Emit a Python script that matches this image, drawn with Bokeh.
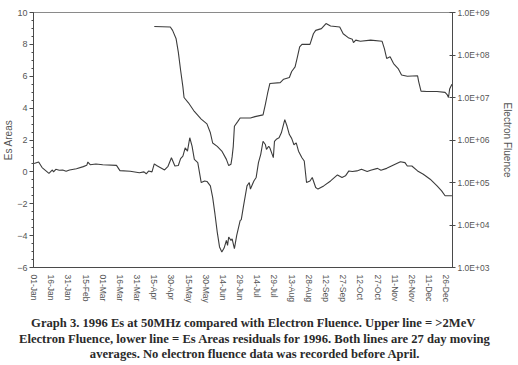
from bokeh.plotting import figure
from bokeh.models import (Range1d, LogScale, LogAxis, FixedTicker, SingleIntervalTicker,
                          CustomJSTickFormatter, ColumnDataSource)
from bokeh.layouts import column
from bokeh.embed import file_html
from bokeh.resources import INLINE
from bokeh.core.properties import value

# ---------------- data ----------------
tick_labels = ["01-Jan", "16-Jan", "31-Jan", "15-Feb", "01-Mar", "16-Mar", "31-Mar",
               "15-Apr", "30-Apr", "15-May", "30-May", "14-Jun", "29-Jun", "14-Jul",
               "29-Jul", "13-Aug", "28-Aug", "12-Sep", "27-Sep", "12-Oct", "27-Oct",
               "11-Nov", "26-Nov", "11-Dec", "26-Dec"]
tick_days = [0, 15, 30, 45, 60, 75, 90, 105, 120, 135, 150, 165, 180, 195,
             210, 225, 240, 255, 270, 285, 300, 315, 330, 345, 360]

# Es Areas residuals (27 day moving average), day of year 1996
es_days = [0, 4, 7, 13, 16, 17, 19, 22, 25, 28, 31, 37, 43, 46, 47, 49, 54, 60, 72, 75,
           84, 92, 96, 98, 100, 103, 105, 107, 114, 117, 120, 123, 126, 128, 130, 132,
           134, 136, 138, 140, 143, 146, 149, 151, 154, 156, 158, 160, 162, 164, 166,
           168, 169, 170, 172, 173, 175, 177, 180, 181, 183, 186, 188, 189, 192, 194,
           196, 198, 200, 202, 203, 205, 206, 208, 209, 210, 212, 214, 216, 219, 221,
           223, 225, 227, 229, 231, 234, 236, 238, 241, 243, 246, 248, 253, 259, 265,
           269, 272, 275, 278, 282, 286, 291, 294, 300, 303, 308, 314, 320, 324, 326,
           330, 335, 340, 346, 352, 356, 359, 365]
es_vals = [0.53, 0.62, 0.27, -0.09, 0.12, 0.0, 0.16, 0.10, 0.12, 0.04, 0.12, 0.20, 0.33,
           0.41, 0.62, 0.45, 0.49, 0.45, 0.41, 0.08, 0.04, -0.05, 0.0, -0.12, 0.05, 0.0,
           0.50, 0.40, 0.12, 0.35, 0.89, 0.37, 0.40, 0.83, 0.99, 1.51, 1.30, 2.14, 1.61,
           0.78, 0.58, -0.67, -0.57, -0.60, -0.88, -1.60, -2.64, -3.78, -4.71, -5.03,
           -4.78, -4.30, -4.61, -4.09, -4.30, -4.20, -4.82, -3.99, -3.06, -3.00, -2.12,
           -0.88, -0.67, -1.08, -0.57, -0.35, 0.58, 1.10, 1.92, 1.72, 1.41, 1.61, 1.50,
           1.10, 0.89, 1.92, 2.07, 2.14, 2.45, 3.28, 2.86, 2.34, 2.10, 1.70, 1.82, 1.30,
           0.89, 0.68, -0.67, -0.57, -0.35, -0.98, -1.08, -0.88, -0.57, -0.19, -0.35,
           -0.25, 0.06, 0.02, 0.06, 0.16, 0.02, 0.10, 0.22, 0.10, 0.22, 0.43, 0.64, 0.58,
           0.37, 0.37, 0.06, -0.15, -0.46, -0.88, -1.19, -1.50, -1.50]

# >2MeV Electron Fluence (27 day moving average)
fl_days = [105, 119, 121, 124, 126, 128, 130, 131, 135, 140, 146, 151, 154, 156, 160,
           164, 168, 170, 172, 173, 174, 175, 178, 180, 189, 193, 200, 202, 204, 206,
           215, 218, 223, 225, 228, 230, 232, 234, 241, 244, 246, 251, 255, 259, 267,
           270, 275, 278, 279, 281, 285, 294, 304, 306, 308, 311, 314, 318, 321, 326,
           335, 336, 338, 343, 352, 359, 361, 362, 363, 365]
fl_vals = [4.68e8, 4.57e8, 3.80e8, 2.45e8, 1.17e8, 4.37e7, 1.78e7, 1.0e7, 7.4e6, 4.7e6,
           3.1e6, 2.4e6, 1.48e6, 8.5e5, 7.1e5, 5.5e5, 3.5e5, 2.5e5, 2.7e5, 4.0e5,
           7.1e5, 2.1e6, 2.75e6, 3.3e6, 3.3e6, 3.55e6, 3.9e6, 6.8e6, 1.26e7, 2.14e7,
           2.24e7, 2.7e7, 2.95e7, 4.1e7, 5.25e7, 8.9e7, 1.55e8, 1.78e8, 1.78e8, 3.16e8,
           3.8e8, 4.17e8, 5.5e8, 4.8e8, 4.57e8, 3.16e8, 2.5e8, 2.34e8, 1.95e8, 2.24e8,
           2.1e8, 2.24e8, 2.1e8, 1.41e8, 8.3e7, 9.1e7, 6.3e7, 4.8e7, 3.4e7, 3.16e7,
           3.24e7, 2.34e7, 1.41e7, 1.38e7, 1.38e7, 1.32e7, 1.15e7, 1.0e7, 1.58e7, 2.04e7]

fl_ticks = [1e3, 1e4, 1e5, 1e6, 1e7, 1e8, 1e9]

caption_lines = [
    "Graph 3.  1996 Es at 50MHz compared with Electron Fluence.  Upper line = >2MeV",
    "Electron Fluence, lower line = Es Areas residuals for 1996.  Both lines are 27 day moving",
    "averages.  No electron fluence data was recorded before April.",
]

# ---------------- styles ----------------
AX = "#4a4a4a"
TXT = "#555555"
LINE = "#3c3c3c"
SANS = "Liberation Sans"
W = 516

p = figure(width=W, height=305, x_range=Range1d(-0.5, 365.5), y_range=Range1d(-6, 10),
           output_backend="svg", toolbar_location=None, title=None,
           min_border_left=33, min_border_right=63, min_border_top=12, min_border_bottom=37)
p.frame_align = False
p.background_fill_color = "white"
p.border_fill_color = "white"
p.outline_line_color = "#8a8a8a"
p.outline_line_width = 1
p.xgrid.visible = False
p.ygrid.visible = False

# left axis
ly = p.yaxis[0]
ly.ticker = SingleIntervalTicker(interval=2, num_minor_ticks=4)
ly.axis_label = "Es Areas"
ly.axis_label_text_font = SANS
ly.axis_label_text_font_style = "normal"
ly.axis_label_text_font_size = "10px"
ly.axis_label_text_color = TXT
ly.axis_label_standoff = 0
ly.major_label_text_font = SANS
ly.major_label_text_font_size = "9px"
ly.major_label_text_color = TXT
ly.major_label_standoff = 2
ly.axis_line_color = AX
ly.major_tick_line_color = AX
ly.minor_tick_line_color = AX
ly.major_tick_out = 4
ly.major_tick_in = 0
ly.minor_tick_out = 2
ly.minor_tick_in = 0

# bottom axis
bx = p.xaxis[0]
bx.ticker = FixedTicker(ticks=tick_days)
bx.major_label_overrides = {d: lab for d, lab in zip(tick_days, tick_labels)}
bx.major_label_orientation = "vertical"
bx.major_label_text_font = SANS
bx.major_label_text_font_size = "8.5px"
bx.major_label_text_color = TXT
bx.major_label_standoff = 7
bx.axis_line_color = AX
bx.major_tick_out = 0
bx.major_tick_in = 0
bx.minor_tick_line_color = None

# right log axis for electron fluence
p.extra_y_ranges = {"flu": Range1d(1e3, 1e9)}
p.extra_y_scales = {"flu": LogScale()}
ra = LogAxis(y_range_name="flu", ticker=FixedTicker(ticks=fl_ticks),
             formatter=CustomJSTickFormatter(code="""
                const e = Math.round(Math.log10(tick));
                return "1.0E+" + (e < 10 ? "0" + e : "" + e);
             """))
ra.axis_label = "Electron Fluence"
ra.axis_label_text_font = SANS
ra.axis_label_text_font_style = "normal"
ra.axis_label_text_font_size = "10px"
ra.axis_label_text_color = TXT
ra.axis_label_standoff = 10
ra.major_label_text_font = SANS
ra.major_label_text_font_size = "8.5px"
ra.major_label_text_color = TXT
ra.major_label_standoff = 2
ra.axis_line_color = AX
ra.major_tick_line_color = AX
ra.major_tick_out = 3
ra.major_tick_in = 3
ra.minor_tick_line_color = None
p.add_layout(ra, "right")

es_src = ColumnDataSource(dict(x=es_days, y=es_vals))
fl_src = ColumnDataSource(dict(x=fl_days, y=fl_vals))
p.line("x", "y", source=es_src, line_color=LINE, line_width=1.1)
p.line("x", "y", source=fl_src, line_color=LINE, line_width=1.1, y_range_name="flu")

# ---------------- caption ----------------
CH = 58
cap = figure(width=W, height=CH, x_range=Range1d(0, W), y_range=Range1d(0, CH),
             output_backend="svg", toolbar_location=None, title=None,
             min_border=0, min_border_left=0, min_border_right=0,
             min_border_top=0, min_border_bottom=0,
             x_axis_location=None, y_axis_location=None)
cap.frame_align = False
cap.outline_line_color = None
cap.xgrid.visible = False
cap.ygrid.visible = False
cap_src = ColumnDataSource(dict(x=[256, 256, 256], y=[41, 25, 10], t=caption_lines))
cap.text("x", "y", text="t", source=cap_src, text_align="center", text_baseline="middle",
         text_font=value("Liberation Serif"), text_font_style="bold",
         text_font_size="12.6px", text_color="#2a2a2a")

layout = column(p, cap, spacing=0)
open("out.html", "w").write(file_html(layout, INLINE))
